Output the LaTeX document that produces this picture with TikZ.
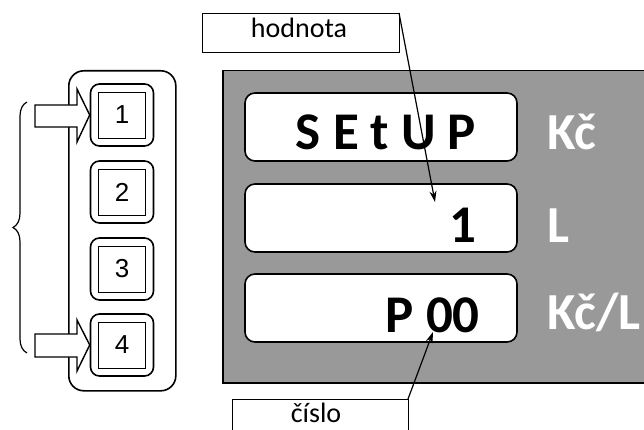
\documentclass[tikz,border=0pt]{standalone}
\usepackage{fontspec}
\setmainfont{Carlito}
\newfontfamily\arialf{Liberation Sans}
\usetikzlibrary{arrows.meta,decorations.pathreplacing}
\definecolor{panelgray}{RGB}{153,153,153}
\tikzset{
  dispbox/.style={draw=black,line width=1.6pt,fill=white,rounded corners=10pt,minimum width=272pt,minimum height=68pt,inner sep=0pt},
  btnouter/.style={draw=black,line width=1.6pt,rounded corners=9pt,minimum width=63pt,minimum height=62pt,inner sep=0pt},
  btninner/.style={draw=black,line width=0.8pt,minimum width=47pt,minimum height=46pt,inner sep=0pt,font=\arialf\fontsize{26}{30}\selectfont},
  disptext/.style={font=\bfseries\fontsize{53}{62}\selectfont,inner sep=0pt},
  unittext/.style={font=\bfseries\fontsize{52}{60}\selectfont,text=white,inner sep=0pt,anchor=base west},
  labelbox/.style={draw=black,line width=0.8pt,fill=white,inner sep=0pt},
  labeltext/.style={font=\fontsize{28}{32}\selectfont,inner sep=0pt,anchor=base},
  blockarrow/.style={draw=black,line width=1.4pt,fill=white,line join=miter},
  pointer/.style={draw=black,line width=1.2pt,-{Stealth[length=11pt,width=7pt]}}
}
\begin{document}
\begin{tikzpicture}[x=1pt,y=-1pt]
\useasboundingbox (0,0) rectangle (644,430);
\clip (0,0) rectangle (644,430);
% panel
\node[draw=black,line width=1.5pt,fill=panelgray,minimum width=440pt,minimum height=312pt,inner sep=0pt,anchor=north west] (panel) at (222,70) {};
% display boxes
\node[dispbox] (d1) at (381,127) {};
\node[dispbox] (d2) at (381,218) {};
\node[dispbox] (d3) at (381,308) {};
\node[disptext,anchor=base] (t1) at (386,150) {S E t U P};
\node[disptext,anchor=base east] (t2) at (477,242) {1};
\node[disptext,anchor=base east] (t3) at (480,332) {P 00};
\node[unittext] (u1) at (547,150) {Kč};
\node[unittext] (u2) at (547,242) {L};
\node[unittext] (u3) at (547,329) {Kč/L};
% label boxes
\draw[labelbox] (202,13) rectangle (399,52);
\coordinate (hne) at (399,13);
\node[labeltext] (hod) at (299,38) {hodnota};
\draw[labelbox] (232,399) rectangle (408,440);
\coordinate (cne) at (408,399);
\node[labeltext] (cis) at (316,422) {číslo};
% pointers
\coordinate (p1) at (435,202);
\coordinate (p2) at (433,332);
\draw[pointer] (hne) -- (p1);
\draw[pointer] (cne) -- (p2);
% left keypad
\node[draw=black,line width=1.6pt,rounded corners=15pt,minimum width=107pt,minimum height=320pt,inner sep=0pt,anchor=north west] (pad) at (68,70) {};
\foreach \i/\y in {1/115,2/192,3/269,4/345}{
  \node[btnouter] (b\i) at (122,\y) {};
  \node[btninner] (k\i) at (122,\y) {\i};
}
% block arrows
\draw[blockarrow] (35,105) -- (77,105) -- (77,89) -- (b1.west) -- (77,142) -- (77,127) -- (35,127) -- cycle;
\draw[blockarrow] (35,334) -- (77,334) -- (77,320) -- (b4.west) -- (77,371) -- (77,357) -- (35,357) -- cycle;
% brace
\coordinate (brb) at (27,353);
\coordinate (brt) at (27,102);
\draw[line width=1.2pt,decorate,decoration={brace,amplitude=14pt}] (brb) -- (brt);
\end{tikzpicture}
\end{document}
